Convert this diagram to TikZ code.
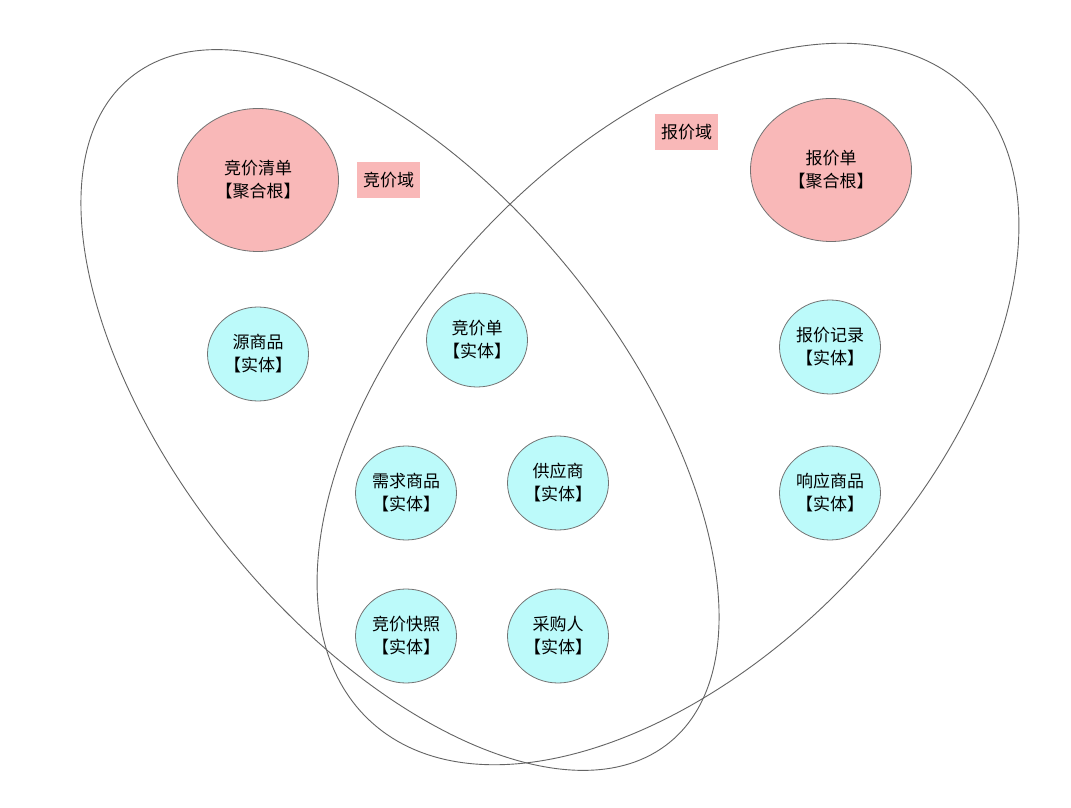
\documentclass[tikz,border=0pt]{standalone}
\usepackage{fontspec}
\newfontfamily\cjk{Noto Sans CJK SC}
\usetikzlibrary{shapes.geometric}
\definecolor{rootpink}{RGB}{249,184,184}
\definecolor{entcyan}{RGB}{188,250,250}
\definecolor{linegray}{RGB}{100,100,100}
\definecolor{nodegray}{RGB}{115,115,115}
\tikzset{
  domainline/.style={draw=linegray, line width=0.9pt},
  rootnode/.style={ellipse, draw=nodegray, line width=0.8pt, fill=rootpink, inner sep=0pt,
    minimum width=161pt, minimum height=143pt, align=center,
    font=\cjk\fontsize{17}{23}\selectfont},
  entnode/.style={ellipse, draw=nodegray, line width=0.8pt, fill=entcyan, inner sep=0pt,
    minimum width=101pt, minimum height=94pt, align=center,
    font=\cjk\fontsize{17}{23}\selectfont},
  domainlabel/.style={rectangle, fill=rootpink, inner sep=0pt,
    minimum width=63pt, minimum height=36pt,
    font=\cjk\fontsize{17}{23}\selectfont}
}
\begin{document}
\begin{tikzpicture}[x=1pt,y=1pt]
\useasboundingbox (0,0) rectangle (1071,807);
\fill[white] (0,0) rectangle (1071,807);
% domains
\draw[domainline, rotate around={-51:(400,397)}] (400,397) ellipse [x radius=428, y radius=220];
\draw[domainline, rotate around={46.6:(668,403)}] (668,403) ellipse [x radius=435, y radius=253];
% labels
\node[domainlabel] (lblbid) at (388.5,627) {竞价域};
\node[domainlabel] (lblquote) at (686.5,675) {报价域};
% aggregate roots
\node[rootnode] (qjqd) at (258,627) {竞价清单\\【聚合根】};
\node[rootnode] (bjd) at (831,637) {报价单\\【聚合根】};
% entities
\node[entnode] (ysp) at (258,453) {源商品\\【实体】};
\node[entnode] (jjd) at (477,467) {竞价单\\【实体】};
\node[entnode] (bjjl) at (830,460) {报价记录\\【实体】};
\node[entnode] (xqsp) at (406,314) {需求商品\\【实体】};
\node[entnode] (gys) at (558,324) {供应商\\【实体】};
\node[entnode] (xysp) at (830,314) {响应商品\\【实体】};
\node[entnode] (jjkz) at (406,171) {竞价快照\\【实体】};
\node[entnode] (cgr) at (558,171) {采购人\\【实体】};
\end{tikzpicture}
\end{document}
